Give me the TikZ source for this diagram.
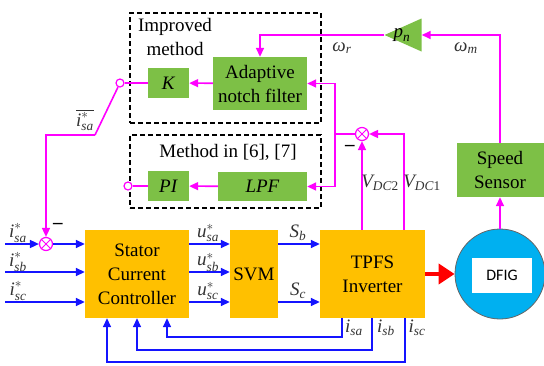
\documentclass[tikz,border=0pt]{standalone}
\usepackage{fix-cm}
\usepackage{amsmath}
\usepackage{fontspec}
\setmainfont{Liberation Serif}
\newfontfamily\dfigfont{Carlito}
\usetikzlibrary{positioning, shapes.geometric, calc, arrows.meta}

\definecolor{blockorange}{RGB}{255,192,0}
\definecolor{blockgreen}{RGB}{125,192,70}
\definecolor{sigmag}{RGB}{255,0,255}
\definecolor{sigblue}{RGB}{20,20,255}
\definecolor{dfigblue}{RGB}{0,176,240}

% signal label in Times-like italics
\newcommand{\sigl}[2]{$\textit{#1}_{\textit{#2}}$}
\newcommand{\sigref}[2]{$\textit{#1}^{*}_{\textit{#2}}$}

\begin{document}
\begin{tikzpicture}[
        x=1pt, y=-1pt,
        font=\fontsize{19}{24}\selectfont,
        mainblock/.style={
            rectangle,
            fill=blockorange,
            align=center,
            inner sep=0pt,
            minimum height=88pt
        },
        ctrlblock/.style={
            rectangle,
            fill=blockgreen,
            align=center,
            inner sep=0pt
        },
        methodframe/.style={
            draw,
            line width=1.3pt,
            dash pattern=on 5pt off 3pt,
            inner sep=0pt
        },
        sumpoint/.style={
            circle,
            draw=sigmag,
            fill=white,
            line width=1.2pt,
            minimum size=13pt,
            inner sep=0pt
        },
        contact/.style={
            circle,
            draw=sigmag,
            fill=white,
            line width=1.2pt,
            minimum size=8pt,
            inner sep=0pt
        },
        lbl/.style={text=black!80, inner sep=1pt},
        bluearrow/.style={-{Triangle[length=9pt,width=8pt]}, sigblue, line width=1.6pt},
        magarrow/.style={-{Triangle[length=9pt,width=8pt]}, sigmag, line width=1.6pt},
        magline/.style={sigmag, line width=1.6pt}
        ]
        
        \useasboundingbox (0,0) rectangle (544,365);
        
        % Method frames
        \node[methodframe, minimum width=191pt, minimum height=110pt] (improvedframe) at (225.5,68) {};
        \node[methodframe, minimum width=191pt, minimum height=73pt] (oldframe) at (225.5,171.5) {};
        \node[align=center] (improvedtxt) at (175,37) {Improved\\method};
        \node (oldtxt) at (228,152) {Method in [6], [7]};
        
        % Filter blocks
        \node[ctrlblock, minimum width=41pt, minimum height=30pt] (k) at (168.5,83) {\textit{K}};
        \node[ctrlblock, minimum width=94pt, minimum height=53pt] (anf) at (260,83.5) {Adaptive\\notch filter};
        \node[ctrlblock, minimum width=41pt, minimum height=30pt] (pi) at (168.5,186) {\textit{PI}};
        \node[ctrlblock, minimum width=89pt, minimum height=29pt] (lpf) at (262.5,186.5) {\textit{LPF}};
        
        % Switch
        \node[contact] (swk) at (120,83) {};
        \node[contact] (swpi) at (128,186) {};
        \coordinate (swpole) at (95,135);
        
        % Summing points
        \node[sumpoint] (suma) at (46,244) {};
        \node[sumpoint] (sumdc) at (362,134) {};
        \draw[sigmag, line width=1pt] (suma.45) -- (suma.225) (suma.135) -- (suma.315);
        \draw[sigmag, line width=1pt] (sumdc.45) -- (sumdc.225) (sumdc.135) -- (sumdc.315);
        
        % Main chain
        \node[mainblock, minimum width=104pt] (scc) at (137,274) {Stator\\Current\\Controller};
        \node[mainblock, minimum width=48pt] (svm) at (254,274) {SVM};
        \node[mainblock, minimum width=105pt] (inv) at (372.5,274) {TPFS\\Inverter};
        \node[circle, draw=black!60, fill=dfigblue, line width=0.8pt, minimum size=90pt, inner sep=0pt] (dfig) at (500,274) {};
        \node[fill=white, minimum width=60pt, minimum height=35pt, font=\dfigfont\fontsize{16}{18}\selectfont] (dfiglbl) at (502,275.5) {DFIG};
        
        % Speed path
        \node[ctrlblock, minimum width=87pt, minimum height=54pt] (speed) at (500,170) {Speed\\Sensor};
        \node[isosceles triangle, shape border rotate=180, isosceles triangle stretches,
            fill=blockgreen, minimum width=33pt, minimum height=37pt, inner sep=0pt,
            anchor=apex] (pn) at (384,35) {};
        \node (pnlbl) at (402,35) {\sigl{p}{n}};
        
        \draw[magarrow] (dfig.north) -- (speed.south);
        \draw[magarrow] (speed.north) |- (pn.lower side);
        \draw[magarrow] (pn.apex) -| (anf.north);
        \node[lbl] (omegar) at (342,48) {\sigl{ω}{r}};
        \node[lbl] (omegam) at (466,48) {\sigl{ω}{m}};
        
        % DC link balancing
        \coordinate (dcsplit) at (335,134);
        \draw[magarrow] (inv.north -| sumdc) -- (sumdc.south);
        \draw[magarrow] ([xshift=31.5pt]inv.north) |- (sumdc.east);
        \draw[magline] (sumdc.west) -- (dcsplit);
        \draw[magarrow] (dcsplit) |- (anf.east);
        \draw[magarrow] (dcsplit) |- (lpf.east);
        \node[lbl] (vdc2) at (380,183) {\sigl{V}{DC\textup{2}}};
        \node[lbl] (vdc1) at (422,183) {\sigl{V}{DC\textup{1}}};
        \node (minusdc) at (350,148) {\textbf{–}};
        
        \draw[magarrow] (anf) -- (k);
        \draw[magarrow] (lpf) -- (pi);
        \draw[magline] (k.west) -- (swk.east);
        \draw[magline] (pi.west) -- (swpi.east);
        \draw[magline] (swpole) -- (swk.244);
        \draw[magarrow] (swpole) -| (suma.north);
        \node[lbl] (isabar) at (85,120) {$\overline{\textit{i}^{*}_{\textit{sa}}}$};
        \node (minusa) at (58,226) {\textbf{–}};
        
        % References
        \coordinate (ina) at (5,244);
        \coordinate (inb) at (5,272);
        \coordinate (inc) at (5,302);
        \draw[bluearrow] (ina) -- (suma.west);
        \draw[bluearrow] (suma.east) -- (suma.east -| scc.west);
        \draw[bluearrow] (inb) -- (inb -| scc.west);
        \draw[bluearrow] (inc) -- (inc -| scc.west);
        \node[lbl] (isaref) at (18,233) {\sigref{i}{sa}};
        \node[lbl] (isbref) at (18,262) {\sigref{i}{sb}};
        \node[lbl] (iscref) at (18,291) {\sigref{i}{sc}};
        
        % Voltage references
        \draw[bluearrow] (scc.east |- ina) -- (svm.west |- ina);
        \draw[bluearrow] (scc.east |- inb) -- (svm.west |- inb);
        \draw[bluearrow] (scc.east |- inc) -- (svm.west |- inc);
        \node[lbl] (usa) at (208,233) {\sigref{u}{sa}};
        \node[lbl] (usb) at (208,262) {\sigref{u}{sb}};
        \node[lbl] (usc) at (208,291) {\sigref{u}{sc}};
        
        % Switching signals
        \draw[bluearrow] (svm.east |- ina) -- (inv.west |- ina);
        \draw[bluearrow] (svm.east |- inc) -- (inv.west |- inc);
        \node[lbl] (sb) at (298,233) {\sigl{S}{b}};
        \node[lbl] (sc) at (298,291) {\sigl{S}{c}};
        
        % Power flow
        \draw[-{Triangle[length=16pt,width=20pt]}, red, line width=4.5pt] (inv.east) -- (dfig.west);
        
        % Current feedback
        \coordinate (fba) at (342,337);
        \coordinate (fbb) at (372,350);
        \coordinate (fbc) at (405,362);
        \draw[bluearrow] (inv.south -| fba) -- (fba) -| ([xshift=30pt]scc.south);
        \draw[bluearrow] (inv.south -| fbb) -- (fbb) -| (scc.south);
        \draw[bluearrow] (inv.south -| fbc) -- (fbc) -| ([xshift=-30pt]scc.south);
        \node[lbl] (isa) at (354,328) {\sigl{i}{sa}};
        \node[lbl] (isb) at (386,328) {\sigl{i}{sb}};
        \node[lbl] (isc) at (417,328) {\sigl{i}{sc}};
        
    \end{tikzpicture}
\end{document}
